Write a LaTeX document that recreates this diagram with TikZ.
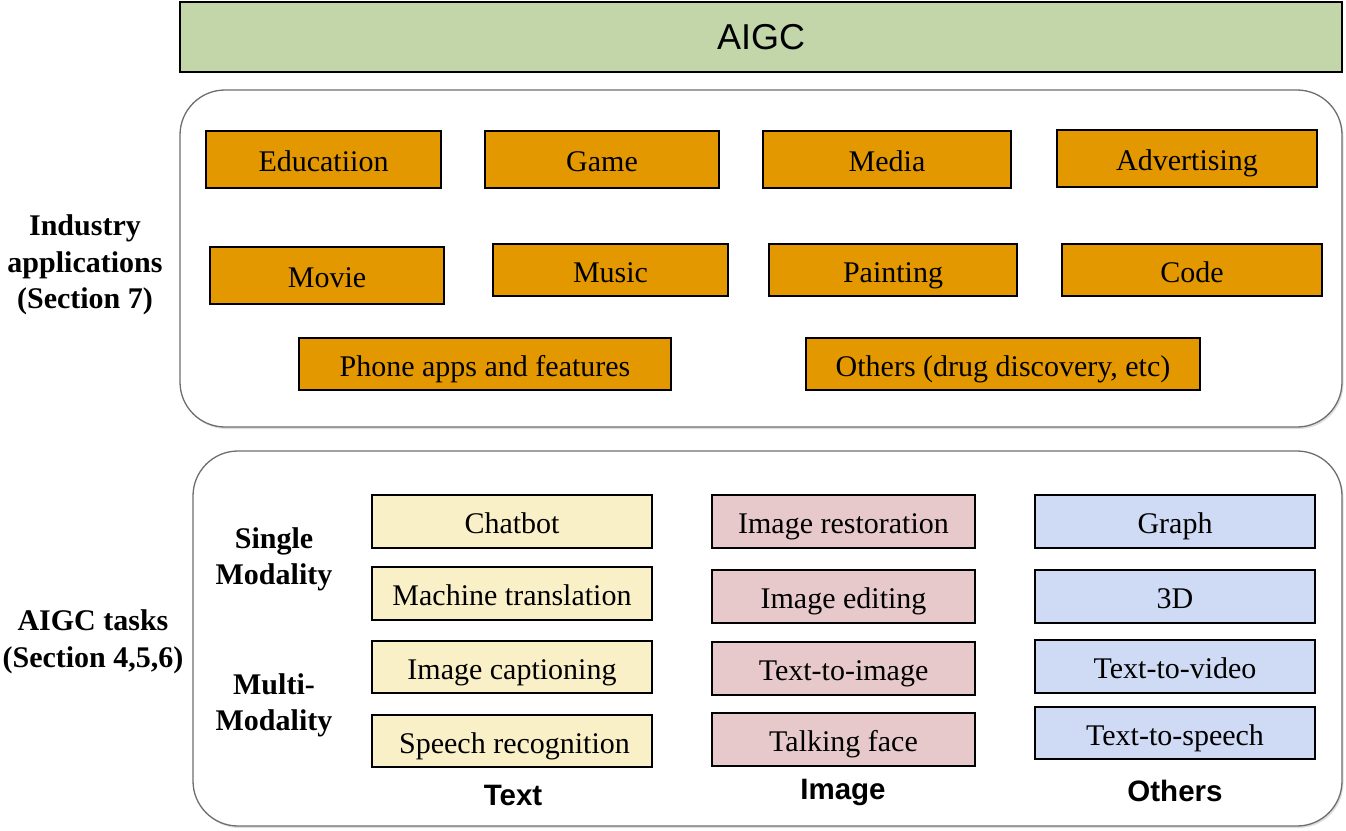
\documentclass[tikz,border=0pt]{standalone}
\usepackage{fontspec}
\setmainfont{Liberation Serif}
\setsansfont{Liberation Sans}
\usetikzlibrary{shadows}
\definecolor{bannergreen}{RGB}{194,214,170}
\definecolor{apporange}{RGB}{227,152,0}
\definecolor{textyellow}{RGB}{250,240,200}
\definecolor{imagepink}{RGB}{231,201,203}
\definecolor{otherblue}{RGB}{207,218,245}
\definecolor{framegray}{RGB}{110,110,110}
\begin{document}
\begin{tikzpicture}[x=1pt,y=-1pt,
  box/.style={draw=black, line width=1.1pt, inner sep=0pt, anchor=center,
    font=\fontsize{30}{36}\selectfont, text height=24pt, text depth=0pt},
  app/.style={box, fill=apporange},
  tbox/.style={box, fill=textyellow, minimum width=280pt, minimum height=53pt},
  ibox/.style={box, fill=imagepink, minimum width=263pt, minimum height=53pt},
  obox/.style={box, fill=otherblue, minimum width=280pt, minimum height=53pt},
  frame/.style={draw=framegray, line width=1.3pt, fill=white, rounded corners=45pt,
    inner sep=0pt, anchor=center,
    drop shadow={shadow xshift=1.5pt, shadow yshift=-2pt, opacity=0.25, fill=gray}},
  sidelabel/.style={align=center, font=\bfseries\fontsize{30}{36.5}\selectfont},
  collabel/.style={font=\sffamily\bfseries\fontsize{29.5}{36}\selectfont,
    text height=21pt, text depth=0pt, inner sep=0pt}
]
\useasboundingbox (0,0) rectangle (1346,830);

% top banner
\node[draw=black, line width=1.1pt, fill=bannergreen, minimum width=1162pt,
  minimum height=70pt, inner sep=0pt, font=\sffamily\fontsize{36}{40}\selectfont]
  (aigc) at (761,37) {AIGC};

% containers
\node[frame, minimum width=1162pt, minimum height=337pt] (industry) at (761,258.5) {};
\node[frame, minimum width=1149pt, minimum height=375pt] (tasks) at (767.5,638.5) {};

% industry applications
\node[app, minimum width=235pt, minimum height=57pt] (edu)   at (323.5,159.5) {Educatiion};
\node[app, minimum width=234pt, minimum height=57pt] (game)  at (602,159.5)   {Game};
\node[app, minimum width=248pt, minimum height=57pt] (media) at (887,159.5)   {Media};
\node[app, minimum width=260pt, minimum height=57pt] (adv)   at (1187,158.5)  {Advertising};
\node[app, minimum width=234pt, minimum height=57pt] (movie) at (327,275.5)   {Movie};
\node[app, minimum width=235pt, minimum height=52pt] (music) at (610.5,270)   {Music};
\node[app, minimum width=248pt, minimum height=52pt] (paint) at (893,270)     {Painting};
\node[app, minimum width=260pt, minimum height=52pt] (code)  at (1192,270)    {Code};
\node[app, minimum width=372pt, minimum height=52pt] (phone) at (485,364)     {Phone apps and features};
\node[app, minimum width=394pt, minimum height=52pt] (other) at (1003,364)    {Others (drug discovery, etc)};

\node[sidelabel] (indlabel) at (85,265) {Industry\\applications\\(Section 7)};

% AIGC tasks
\node[sidelabel] (tasklabel) at (93,642) {AIGC tasks\\(Section 4,5,6)};
\node[sidelabel] (single) at (274,559.5) {Single\\Modality};
\node[sidelabel] (multi)  at (274,705.5) {Multi-\\Modality};

\node[tbox] (chat)  at (512,521.5) {Chatbot};
\node[tbox] (mt)    at (512,593.5) {Machine translation};
\node[tbox, minimum height=52pt] (ic) at (512,667) {Image captioning};
\node[tbox, minimum height=52pt] (sr) at (512,741) {\,Speech recognition};

\node[ibox] (ir)  at (843.5,521.5) {Image restoration};
\node[ibox] (ie)  at (843.5,596.5) {Image editing};
\node[ibox] (t2i) at (843.5,668.5) {Text-to-image};
\node[ibox] (tf)  at (843.5,739.5) {Talking face};

\node[obox] (graph) at (1175,521.5) {Graph};
\node[obox] (td)    at (1175,596.5) {3D};
\node[obox] (t2v)   at (1175,666.5) {Text-to-video};
\node[obox, minimum height=52pt] (t2s) at (1175,733) {Text-to-speech};

\node[collabel] (coltext)  at (513,795)  {Text};
\node[collabel] (colimage) at (843,789)  {Image};
\node[collabel] (colother) at (1175,791) {Others};
\end{tikzpicture}
\end{document}
